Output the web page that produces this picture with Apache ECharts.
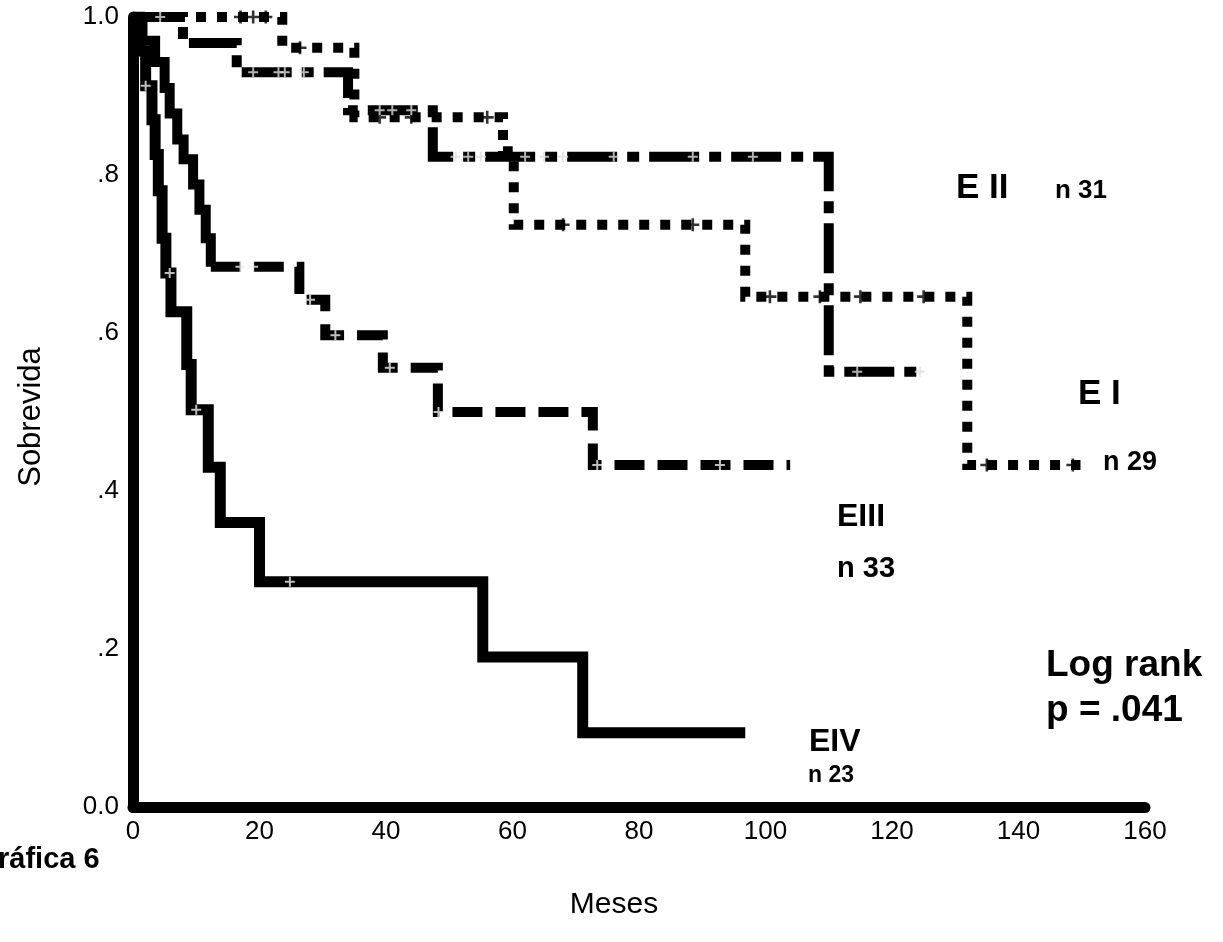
<!DOCTYPE html>
<html><head><meta charset="utf-8">
<script src="https://cdn.jsdelivr.net/npm/echarts@6/dist/echarts.min.js"></script>
<style>html,body{margin:0;padding:0;background:#fff}#c{width:1223px;height:942px}</style>
</head><body><div id="c"></div>
<script>
// ---- data ----
const xTickValues = [0, 20, 40, 60, 80, 100, 120, 140, 160];
const yTickLabels = ['0.0', '.2', '.4', '.6', '.8', '1.0'];

// Kaplan-Meier step points: time (months) and survival after that time
const eITime   = [0, 23.6, 35.0, 58.5, 60.2, 96.8, 131.9, 149.8];
const eISurv   = [1.0, 0.961, 0.873, 0.830, 0.737, 0.646, 0.433, 0.433];
const eICens   = [17, 19, 21, 26.4, 39, 44, 56, 68, 88.5, 100.7, 108.6, 115, 125, 135, 148.6];

const eIITime  = [0, 7.9, 16.4, 34.0, 47.4, 110.0, 124.6];
const eIISurv  = [1.0, 0.967, 0.930, 0.882, 0.823, 0.551, 0.551];
const eIICens  = [4.3, 19, 23, 24, 27, 39, 41, 44, 51, 53, 55, 62, 65, 68, 76, 88.5, 98, 114.5, 124.4];

const eIIITime = [0, 1.5, 3.5, 5.0, 5.8, 7.0, 8.0, 9.5, 10.5, 11.5, 12.3, 26.3, 30.4, 39.5, 48.2, 72.7, 103.9];
const eIIISurv = [1.0, 0.970, 0.943, 0.910, 0.878, 0.845, 0.820, 0.788, 0.756, 0.720, 0.684, 0.642, 0.597, 0.556, 0.500, 0.433, 0.433];
const eIIICens = [17, 19, 28, 32, 40.6, 48.3, 73.4, 92.8];

const eIVTime  = [0, 1.0, 2.0, 3.0, 3.5, 4.0, 4.6, 5.2, 6.0, 8.5, 9.2, 11.9, 13.8, 20.0, 55.3, 71.1, 96.8];
const eIVSurv  = [1.0, 0.957, 0.913, 0.870, 0.826, 0.780, 0.720, 0.676, 0.627, 0.560, 0.503, 0.430, 0.360, 0.285, 0.190, 0.094, 0.094];
const eIVCens  = [2, 5.8, 10, 24.8];

// ---- helpers ----
function pairs(t, s) { return t.map((v, i) => [v, s[i]]); }
function survAt(t, s, x) { let v = s[0]; for (let i = 0; i < t.length; i++) { if (t[i] <= x) v = s[i]; } return v; }
function cens(t, s, c) { return c.map(x => [x, survAt(t, s, x)]); }

const plus = 'path://M4,0H6V4H10V6H6V10H4V6H0V4H4Z';
const chart = echarts.init(document.getElementById('c'), null, {renderer: 'canvas'});

function stepLine(name, data, dash, width) {
  return {
    name, type: 'line', step: 'end', data, showSymbol: false, symbol: 'none',
    animation: false, silent: true, z: 3,
    lineStyle: { color: '#000', width: width, type: dash, cap: 'butt', join: 'miter' }
  };
}
function censor(name, data, color, size) {
  return { name: name + ' cens', type: 'scatter', data, symbol: plus, symbolSize: size,
    itemStyle: { color }, animation: false, silent: true, z: 4 };
}

const font = '"Liberation Sans", Arial, sans-serif';
function label(text, x, y, size, weight) {
  return { type: 'text', x, y, z: 10,
    style: { text, font: (weight || 'bold') + ' ' + size + 'px ' + font, fill: '#000',
      textAlign: 'left', textVerticalAlign: 'middle' } };
}

// EIII: the steep early staircase prints as a continuous band, the rest dashed
const eIIIPts = pairs(eIIITime, eIIISurv);
const eIIIBreak = eIIITime.indexOf(12.3);

chart.setOption({
  backgroundColor: '#fff',
  animation: false,
  grid: { left: 133, right: 78, top: 17, bottom: 135, containLabel: false },
  xAxis: {
    type: 'value', min: 0, max: 160, interval: 20,
    axisLine: { show: true, onZero: false, lineStyle: { color: '#000', width: 11 } },
    axisTick: { show: false },
    splitLine: { show: false },
    axisLabel: { color: '#000', fontFamily: font, fontSize: 26, margin: 12,
      customValues: xTickValues, formatter: v => String(v) }
  },
  yAxis: {
    type: 'value', min: 0, max: 1, interval: 0.2,
    axisLine: { show: true, onZero: false, lineStyle: { color: '#000', width: 11 } },
    axisTick: { show: true, length: 4, inside: false, lineStyle: { color: '#000', width: 2 } },
    splitLine: { show: false },
    axisLabel: { color: '#000', fontFamily: font, fontSize: 26, margin: 14,
      formatter: v => yTickLabels[Math.round(v * 5)] }
  },
  series: [
    stepLine('EI', pairs(eITime, eISurv), [10, 11], 10),
    stepLine('EII', pairs(eIITime, eIISurv), [50, 10, 12, 10], 10),
    stepLine('EIII early', eIIIPts.slice(0, eIIIBreak + 1), 'solid', 10),
    stepLine('EIII', eIIIPts.slice(eIIIBreak), [30, 13], 10),
    stepLine('EIV', pairs(eIVTime, eIVSurv), 'solid', 11),
    censor('EI', cens(eITime, eISurv, eICens), '#000', 13),
    censor('EII', cens(eIITime, eIISurv, eIICens), '#ddd', 10),
    censor('EIII', cens(eIIITime, eIIISurv, eIIICens), '#eee', 10),
    censor('EIV', cens(eIVTime, eIVSurv, eIVCens), '#eee', 10)
  ],
  graphic: [
    { type: 'text', x: 31, y: 417, rotation: Math.PI / 2, z: 10,
      style: { text: 'Sobrevida', font: '31px ' + font, fill: '#000', textAlign: 'center', textVerticalAlign: 'middle' } },
    { type: 'text', x: 614, y: 905, z: 10,
      style: { text: 'Meses', font: '30px ' + font, fill: '#000', textAlign: 'center', textVerticalAlign: 'middle' } },
    label('ráfica 6', -2, 860, 29),
    label('E II', 956, 188, 35),
    label('n 31', 1055, 191, 26),
    label('E I', 1078, 394, 35),
    label('n 29', 1103, 463, 27),
    label('EIII', 837, 517, 32),
    label('n 33', 837, 569, 29),
    label('EIV', 809, 742, 32),
    label('n 23', 808, 776, 23),
    label('Log rank', 1046, 666, 37),
    label('p = .041', 1046, 711, 37)
  ]
});
</script>
</body></html>
